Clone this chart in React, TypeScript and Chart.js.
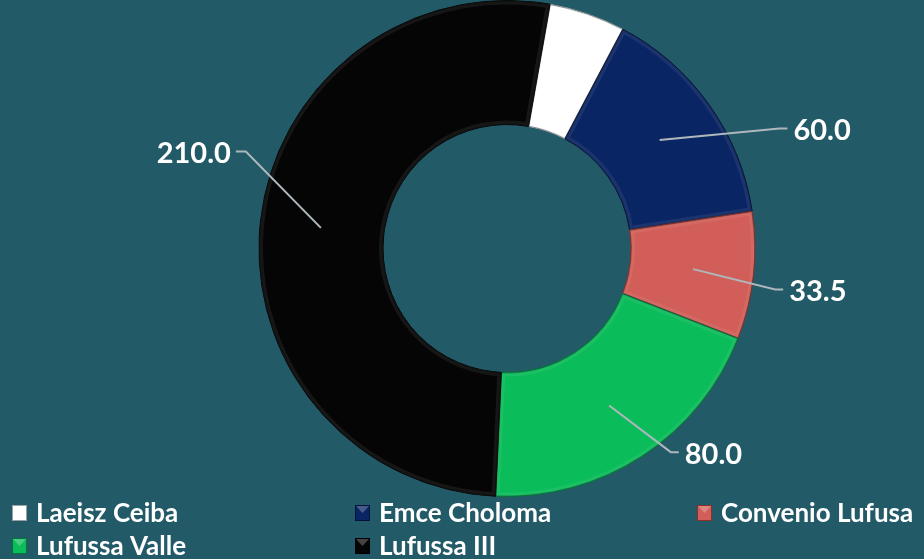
import React, { useEffect, useRef } from "react";
import { Chart, registerables } from "chart.js";

Chart.register(...registerables);

// ---- data ----
const categories = ["Laeisz Ceiba", "Emce Choloma", "Convenio Lufusa", "Lufussa Valle", "Lufussa III"];
const values = [20, 60, 33.5, 80, 210];
const labelTexts = ["20.0", "60.0", "33.5", "80.0", "210.0"];
const showLabel = [false, true, true, true, true];

// ---- style ----
const BG = "#225a68";
const colors = ["#ffffff", "#0a2564", "#d15e58", "#0abc5a", "#050505"];
const borderColors = ["#9aa0a4", "#04113a", "#8a2f2b", "#04753a", "#000000"];
const labelNudge: [number, number][] = [
  [0, 0],
  [50, 38],
  [-3, 11],
  [15, -25],
  [10, -67],
];
const LABEL_FONT = "bold 29px Lato";
const LEGEND_FONT = "bold 26px Lato";
const legendCols = [12, 355, 697];
const legendRows = [513, 546];

const bevelPlugin = {
  id: "bevel",
  afterDatasetDraw(chart: any) {
    const ctx = chart.ctx;
    const meta = chart.getDatasetMeta(0);
    meta.data.forEach((arc: any) => {
      const { x, y, startAngle, endAngle, outerRadius, innerRadius } = arc.getProps(
        ["x", "y", "startAngle", "endAngle", "outerRadius", "innerRadius"],
        true
      );
      ctx.save();
      ctx.beginPath();
      ctx.arc(x, y, outerRadius, startAngle, endAngle);
      ctx.arc(x, y, innerRadius, endAngle, startAngle, true);
      ctx.closePath();
      ctx.clip();
      ctx.lineJoin = "round";
      ctx.strokeStyle = "rgba(255,255,255,0.07)";
      ctx.lineWidth = 8;
      ctx.stroke();
      ctx.strokeStyle = "rgba(0,0,0,0.2)";
      ctx.lineWidth = 2;
      ctx.stroke();
      ctx.restore();
    });
  },
};

const labelPlugin = {
  id: "extLabels",
  afterDatasetsDraw(chart: any) {
    const ctx = chart.ctx;
    const meta = chart.getDatasetMeta(0);
    ctx.save();
    meta.data.forEach((arc: any, i: number) => {
      if (!showLabel[i]) return;
      const { x, y, startAngle, endAngle, outerRadius } = arc.getProps(
        ["x", "y", "startAngle", "endAngle", "outerRadius"],
        true
      );
      const mid = (startAngle + endAngle) / 2;
      const r0 = outerRadius * 0.755;
      const sx = x + Math.cos(mid) * r0;
      const sy = y + Math.sin(mid) * r0;
      const R = outerRadius * 1.1;
      const ex = x + Math.cos(mid) * R + labelNudge[i][0];
      const ey = y + Math.sin(mid) * R + labelNudge[i][1];
      const right = ex >= x;
      const hx = ex + (right ? 8 : -10);
      ctx.strokeStyle = "#aeb8bc";
      ctx.lineWidth = 2;
      ctx.beginPath();
      ctx.moveTo(sx, sy);
      ctx.lineTo(ex, ey);
      ctx.lineTo(hx, ey);
      ctx.stroke();
      ctx.font = LABEL_FONT;
      ctx.fillStyle = "#ffffff";
      ctx.textBaseline = "middle";
      ctx.textAlign = right ? "left" : "right";
      ctx.fillText(labelTexts[i], hx + (right ? 6 : -5), ey + 2);
    });

    // legend
    ctx.font = LEGEND_FONT;
    ctx.textBaseline = "middle";
    ctx.textAlign = "left";
    categories.forEach((name, i) => {
      const col = i % 3;
      const row = Math.floor(i / 3);
      const mx = legendCols[col];
      const my = legendRows[row];
      const w = 15, h = 16;
      ctx.fillStyle = colors[i];
      ctx.fillRect(mx, my - h / 2, w, h);
      ctx.strokeStyle = borderColors[i];
      ctx.lineWidth = 1;
      ctx.strokeRect(mx + 0.5, my - h / 2 + 0.5, w - 1, h - 1);
      ctx.fillStyle = "rgba(255,255,255,0.25)";
      ctx.beginPath();
      ctx.moveTo(mx + 1, my - h / 2 + 1);
      ctx.lineTo(mx + w - 1, my - h / 2 + 1);
      ctx.lineTo(mx + w / 2, my);
      ctx.closePath();
      ctx.fill();
      ctx.fillStyle = "#ffffff";
      ctx.fillText(name, mx + 24, my + 1);
    });
    ctx.restore();
  },
};

export default function App() {
  const ref = useRef<HTMLCanvasElement>(null);
  useEffect(() => {
    document.body.style.margin = "0";
    document.body.style.background = BG;
    const chart = new Chart(ref.current!, {
      type: "doughnut",
      data: {
        labels: categories,
        datasets: [
          {
            data: values,
            backgroundColor: colors,
            borderColor: borderColors,
            borderWidth: 1,
          },
        ],
      },
      options: {
        animation: false,
        responsive: false,
        cutout: "50%",
        rotation: 10,
        layout: { padding: { left: 90, right: 0, top: 0, bottom: 62 } },
        plugins: {
          legend: { display: false },
          tooltip: { enabled: false },
          title: { display: false },
        },
      },
      plugins: [bevelPlugin, labelPlugin],
    });
    return () => chart.destroy();
  }, []);
  return (
    <div style={{ width: 924, height: 559, background: BG }}>
      <canvas ref={ref} width={924} height={559} style={{ display: "block" }} />
    </div>
  );
}
